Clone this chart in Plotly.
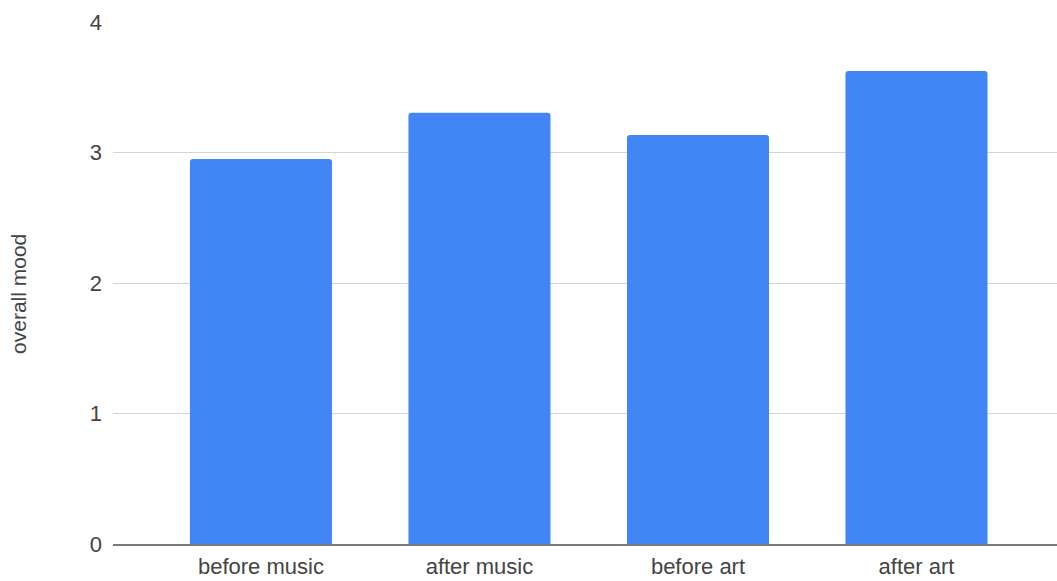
import plotly.graph_objects as go

categories = ["before music", "after music", "before art", "after art"]
mood = [2.95, 3.305, 3.135, 3.625]
y_ticks = [0, 1, 2, 3, 4]
y_title = "overall mood"

fig = go.Figure(
    go.Bar(
        x=categories,
        y=mood,
        marker=dict(color="#4285F4", cornerradius=3, line=dict(width=0)),
        hoverinfo="x+y",
    )
)

font_family = "Liberation Sans, Arial, sans-serif"

fig.update_layout(
    width=1057,
    height=581,
    margin=dict(l=113, r=0, t=22, b=37),
    paper_bgcolor="white",
    plot_bgcolor="white",
    bargap=0.35,
    showlegend=False,
    font=dict(family=font_family, size=22, color="#444444"),
    xaxis=dict(
        range=[-0.677, 3.643],
        showgrid=False,
        showline=True,
        linecolor="#7a7a7a",
        linewidth=2,
        ticks="",
        tickfont=dict(size=22, color="#444444"),
        ticklabelstandoff=2,
        automargin=False,
    ),
    yaxis=dict(
        range=[0, 4],
        tickvals=y_ticks,
        showgrid=True,
        gridcolor="#d4d4d4",
        gridwidth=1,
        zeroline=False,
        showline=False,
        ticks="",
        tickfont=dict(size=22, color="#444444"),
        ticklabelstandoff=10,
        automargin=False,
    ),
    annotations=[
        dict(
            text=y_title,
            textangle=-90,
            xref="paper",
            yref="paper",
            x=-0.0996,
            y=0.479,
            xanchor="center",
            yanchor="middle",
            showarrow=False,
            font=dict(family=font_family, size=21, color="#444444"),
        )
    ],
)

fig.write_html("out.html")
